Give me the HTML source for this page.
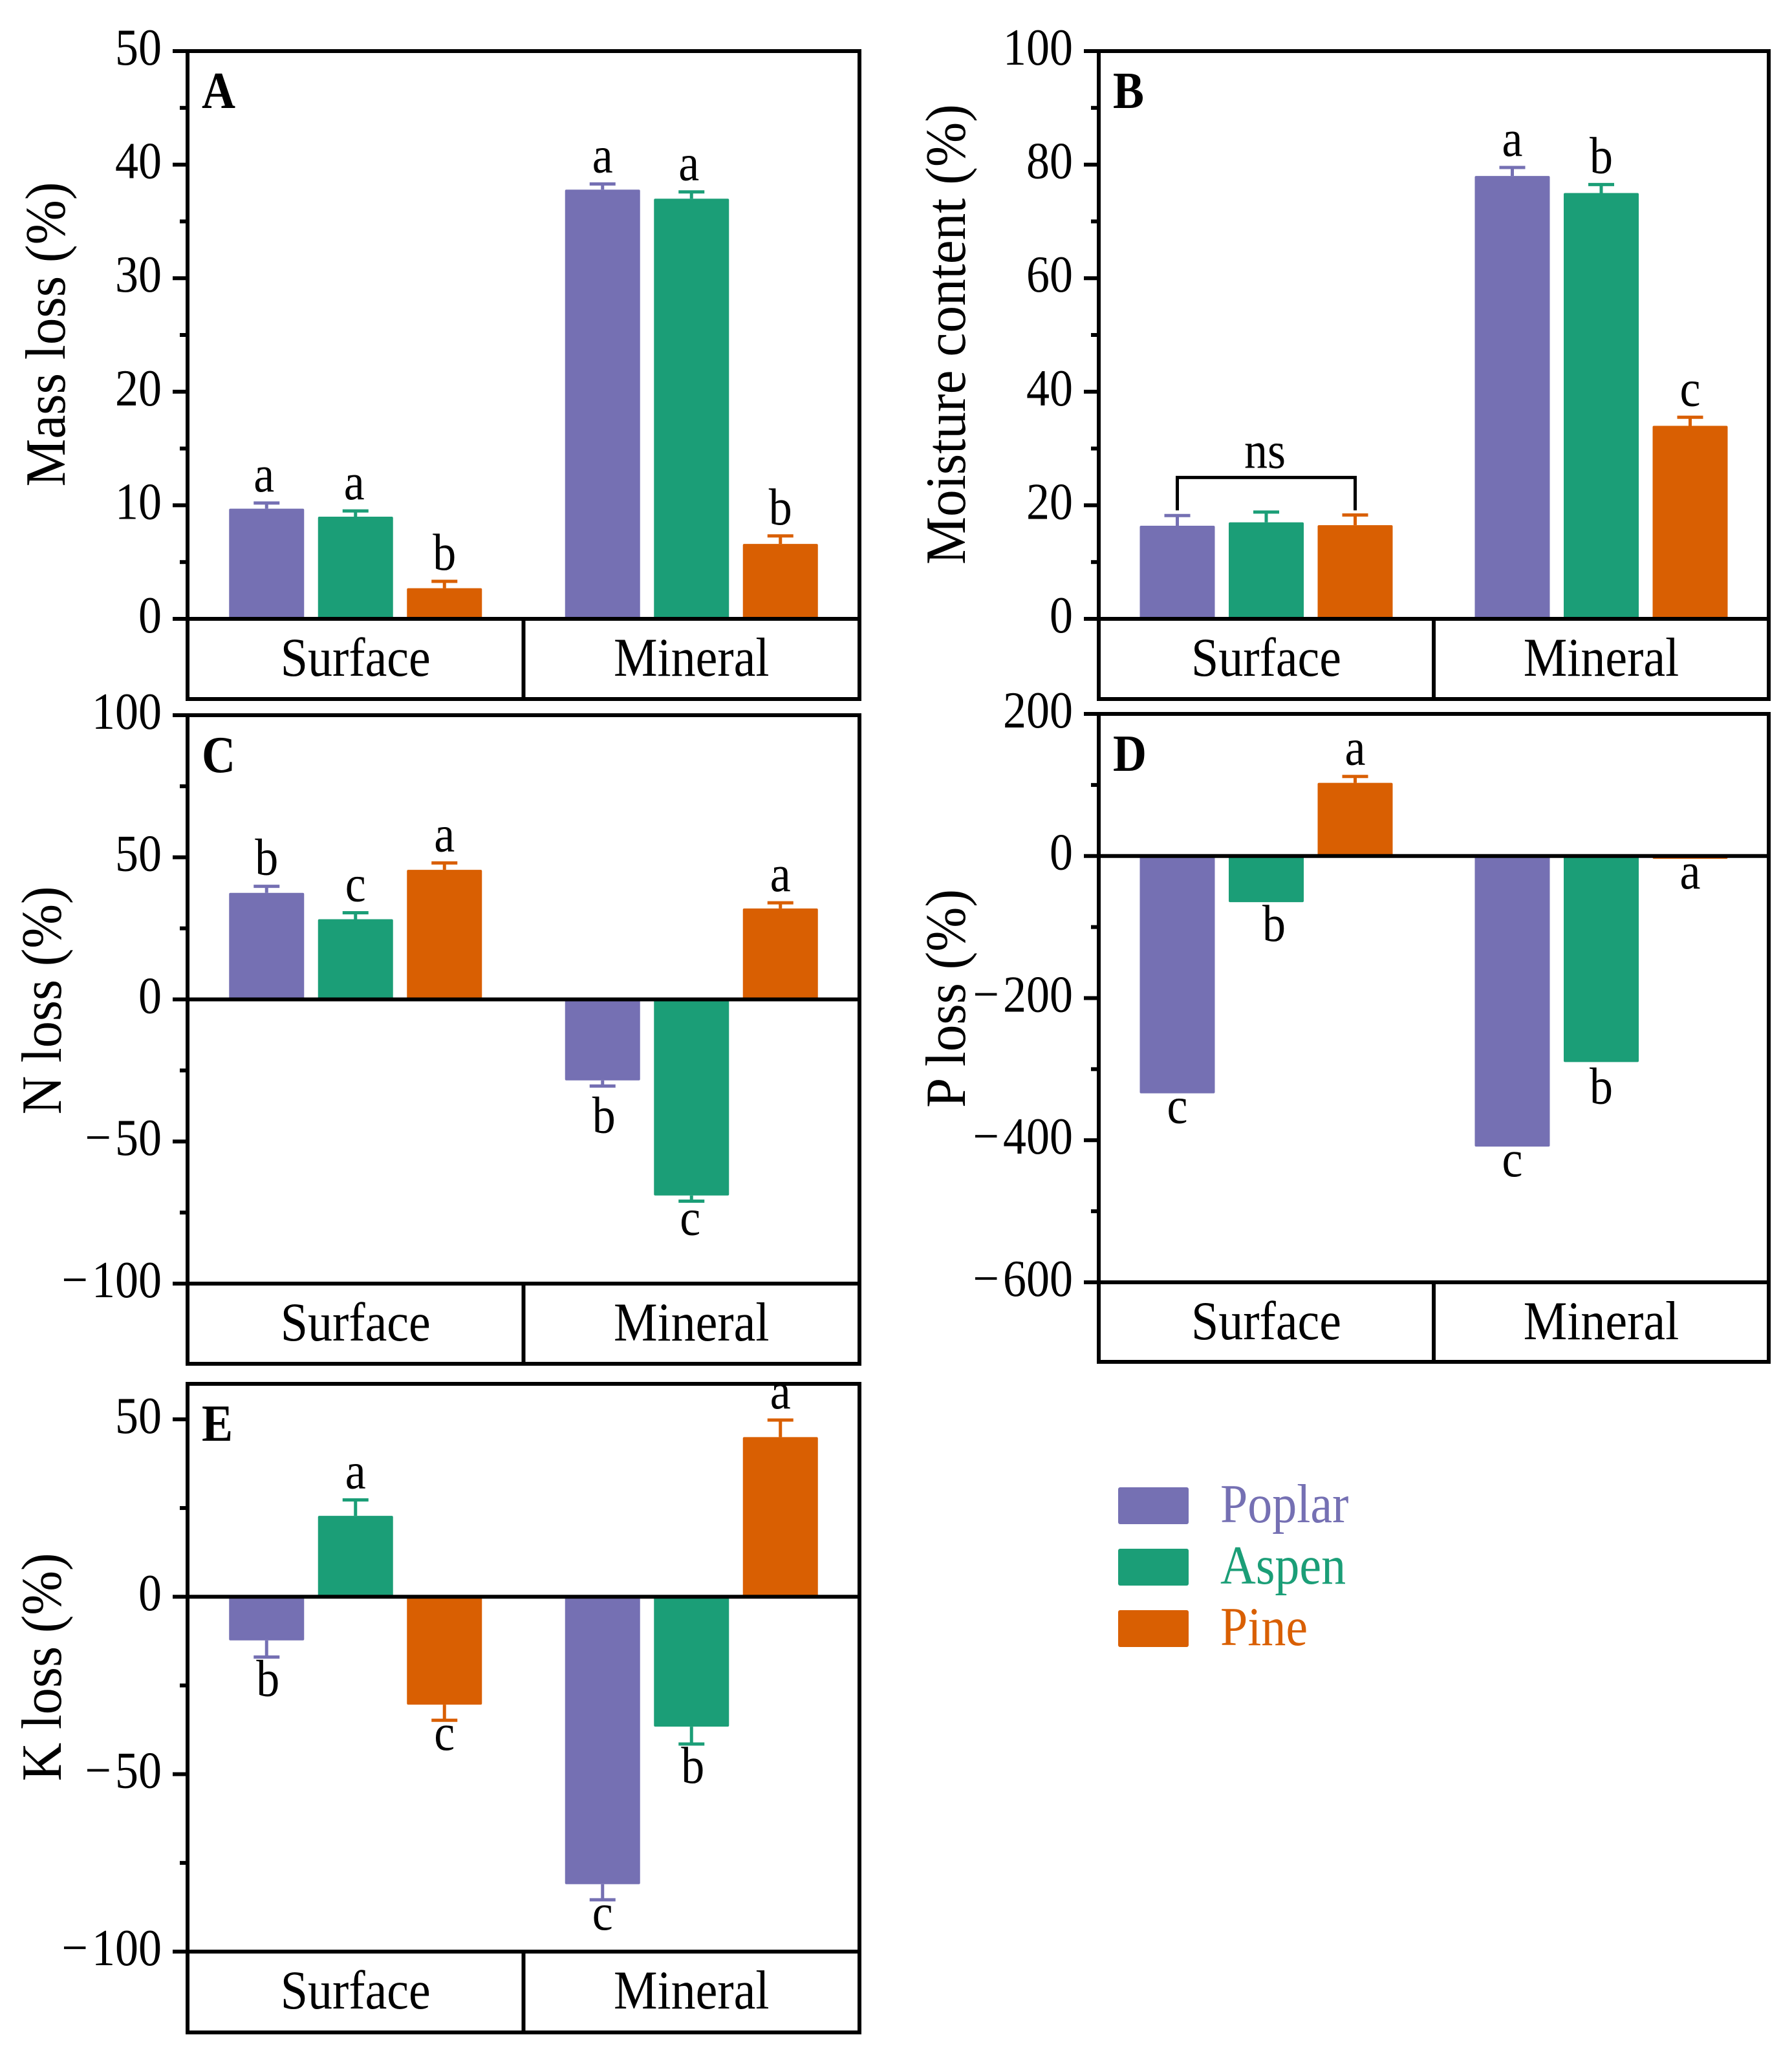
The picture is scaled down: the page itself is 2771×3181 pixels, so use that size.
<!DOCTYPE html>
<html lang="en">
<head>
<meta charset="utf-8">
<title>Mass loss, moisture content and nutrient loss by wood species</title>
<style>
html,body{margin:0;padding:0;background:#fff}
svg{display:block}
text{font-family:"Liberation Serif",serif;fill:#000}
</style>
</head>
<body>
<svg id="chart" xmlns="http://www.w3.org/2000/svg" width="2771" height="3181" viewBox="0 0 2771 3181"></svg>
<script>
const groupNames = ['Surface', 'Mineral'];
const speciesNames = ['Poplar', 'Aspen', 'Pine'];
const speciesColors = ['#7570b3', '#1b9e77', '#d95f02'];

const massLossValues = [[9.7, 9.0, 2.7], [37.8, 37.0, 6.6]];
const massLossTips = [[10.2, 9.5, 3.3], [38.3, 37.6, 7.3]];
const massLossLetters = [['a', 'a', 'b'], ['a', 'a', 'b']];
const massLossTicks = [0, 10, 20, 30, 40, 50];

const moistureValues = [[16.4, 17.0, 16.5], [78.0, 75.0, 34.0]];
const moistureTips = [[18.2, 18.8, 18.3], [79.5, 76.5, 35.5]];
const moistureLetters = [[null, null, null], ['a', 'b', 'c']];
const moistureTicks = [0, 20, 40, 60, 80, 100];

const nLossValues = [[37.5, 28.2, 45.6], [-28.5, -69, 32]];
const nLossTips = [[39.8, 30.5, 48], [-30.5, -71, 34]];
const nLossLetters = [['b', 'c', 'a'], ['b', 'c', 'a']];
const nLossTicks = [-100, -50, 0, 50, 100];

const pLossValues = [[-334, -65, 103], [-409, -290, -4]];
const pLossTips = [[null, null, 112], [null, null, null]];
const pLossLetters = [['c', 'b', 'a'], ['c', 'b', 'a']];
const pLossTicks = [-600, -400, -200, 0, 200];

const kLossValues = [[-12.3, 22.8, -30.4], [-81, -36.6, 45]];
const kLossTips = [[-17, 27.3, -34.8], [-85.4, -41.5, 49.8]];
const kLossLetters = [['b', 'a', 'c'], ['c', 'b', 'a']];
const kLossTicks = [-100, -50, 0, 50];

const panels = [
  {id:'A', title:'Mass loss (%)', len:471, tx:100, cy:517, left:290, right:1329, top:79, bottom:957, box:1081, min:0, max:50, ticks:massLossTicks, values:massLossValues, tips:massLossTips, letters:massLossLetters},
  {id:'B', title:'Moisture content (%)', len:712, tx:1492, cy:517, left:1699, right:2735, top:79, bottom:957, box:1081, min:0, max:100, ticks:moistureTicks, values:moistureValues, tips:moistureTips, letters:moistureLetters},
  {id:'C', title:'N loss (%)', len:353, tx:94, cy:1547, left:290, right:1329, top:1106, bottom:1985, box:2109, min:-100, max:100, ticks:nLossTicks, values:nLossValues, tips:nLossTips, letters:nLossLetters},
  {id:'D', title:'P loss (%)', len:338, tx:1492, cy:1544, left:1699, right:2735, top:1104, bottom:1983, box:2106, min:-600, max:200, ticks:pLossTicks, values:pLossValues, tips:pLossTips, letters:pLossLetters},
  {id:'E', title:'K loss (%)', len:353, tx:94, cy:2578, left:290, right:1329, top:2140, bottom:3018, box:3143, min:-100, max:60, ticks:kLossTicks, values:kLossValues, tips:kLossTips, letters:kLossLetters}
];

const letterNudges = {'A-0-0':[-4,0], 'A-0-1':[-2,0], 'A-1-1':[-4,0], 'C-1-0':[2,8], 'C-1-1':[-2,6], 'D-0-1':[12,-4], 'E-1-1':[2,-4], 'E-0-0':[2,-4]};

const NS = 'http://www.w3.org/2000/svg';
const root = document.getElementById('chart');
const STRETCH = 1.12;

function make(tag, parent, attrs, content) {
  const el = document.createElementNS(NS, tag);
  for (const k in attrs) el.setAttribute(k, attrs[k]);
  if (content !== undefined) el.textContent = content;
  parent.appendChild(el);
  return el;
}
function stretched(parent, attrs, content) {
  attrs.transform = 'matrix(1 0 0 ' + STRETCH + ' 0 ' + (attrs.y * (1 - STRETCH)) + ')';
  return make('text', parent, attrs, content);
}
function formatTick(v) { return v < 0 ? '\u2212\u200a' + Math.abs(v) : String(v); }

panels.forEach(function (p) {
  const key = p.id.toLowerCase();
  const g = make('g', root, {});
  
  

  const w = p.right - p.left;
  const yScale = function (v) { return p.bottom - (v - p.min) * (p.bottom - p.top) / (p.max - p.min); };
  const xCenter = function (gi, si) { return p.left + w * (gi === 0 ? 0.25 : 0.75) + (si - 1) * 137.5; };
  const zeroY = yScale(0);
  const barW = 116;

  p.values.forEach(function (row, gi) {
    row.forEach(function (v, si) {
      const cx = xCenter(gi, si);
      const y = yScale(v);
      const color = speciesColors[si];
      const barName = groupNames[gi].toLowerCase() + '-' + speciesNames[si].toLowerCase();
      const tip = p.tips[gi][si];
      if (tip !== null) {
        const err = make('path', g, {d:'M' + cx + ' ' + y + 'V' + yScale(tip) + 'M' + (cx - 20) + ' ' + yScale(tip) + 'H' + (cx + 20), stroke:color, 'stroke-width':5, fill:'none'});
        
        
      }
      const bar = make('rect', g, {x:cx - barW / 2, y:Math.min(y, zeroY), width:barW, height:Math.abs(zeroY - y), rx:2, fill:color});
      
      
      const letter = p.letters[gi][si];
      if (letter) {
        const end = tip !== null ? tip : v;
        const nudge = letterNudges[p.id + '-' + gi + '-' + si] || [0, 0];
        const base = (v >= 0 ? yScale(end) - 18 : yScale(end) + (letter === 'b' ? 64 : 46)) + nudge[1];
        const label = stretched(g, {x:cx + nudge[0], y:base, 'font-size':72, 'text-anchor':'middle'}, letter);
        
        
      }
    });
  });

  const box = make('rect', g, {x:p.left, y:p.top, width:w, height:p.box - p.top, fill:'none', stroke:'#000', 'stroke-width':6});
  
  
  const axisLine = make('line', g, {x1:p.left, x2:p.right, y1:p.bottom, y2:p.bottom, stroke:'#000', 'stroke-width':6});
  
  
  if (p.min < 0) {
    const zero = make('line', g, {x1:p.left, x2:p.right, y1:zeroY, y2:zeroY, stroke:'#000', 'stroke-width':6});
    
    
  }
  const divider = make('line', g, {x1:p.left + w / 2, x2:p.left + w / 2, y1:p.bottom, y2:p.box, stroke:'#000', 'stroke-width':6});
  
  

  groupNames.forEach(function (name, gi) {
    const t = stretched(g, {x:p.left + w * (gi === 0 ? 0.25 : 0.75), y:p.bottom + 88, 'font-size':76, 'text-anchor':'middle'}, name);
    
    
  });

  const tickStep = p.ticks[1] - p.ticks[0];
  p.ticks.forEach(function (v, i) {
    const y = yScale(v);
    const tick = make('line', g, {x1:p.left - 23, x2:p.left, y1:y, y2:y, stroke:'#000', 'stroke-width':6});
    
    
    const lab = stretched(g, {x:p.left - 40, y:y + 21, 'font-size':72, 'text-anchor':'end'}, formatTick(v));
    
    
    if (i < p.ticks.length - 1 || v + tickStep / 2 <= p.max) {
      const my = yScale(v + tickStep / 2);
      const minor = make('line', g, {x1:p.left - 12, x2:p.left, y1:my, y2:my, stroke:'#000', 'stroke-width':6});
      
      
    }
  });

  const title = make('text', g, {x:p.tx, y:p.cy, 'font-size':88, 'text-anchor':'middle', textLength:p.len, lengthAdjust:'spacingAndGlyphs', transform:'rotate(-90 ' + p.tx + ' ' + p.cy + ')'}, p.title);
  
  

  const tag = stretched(g, {x:p.left + 22, y:p.top + 88, 'font-size':72, 'font-weight':'bold'}, p.id);
  
  

  if (p.id === 'B') {
    const x1 = xCenter(0, 0);
    const x2 = xCenter(0, 2);
    const yb = yScale(19.1);
    const yt = yScale(24.9);
    const bracket = make('path', g, {d:'M' + x1 + ' ' + yb + 'V' + yt + 'H' + x2 + 'V' + yb, fill:'none', stroke:'#000', 'stroke-width':5});
    
    
    const ns = stretched(g, {x:(x1 + x2) / 2 - 2, y:yt - 15, 'font-size':72, 'text-anchor':'middle'}, 'ns');
    
    
  }
});

const legend = make('g', root, {});


speciesNames.forEach(function (name, i) {
  const top = 2300 + i * 95;
  const entry = make('g', legend, {});
  
  
  const swatch = make('rect', entry, {x:1729, y:top, width:109, height:57, rx:3, fill:speciesColors[i]});
  
  
  const text = stretched(entry, {x:1887, y:top + 54, 'font-size':76, style:'fill:' + speciesColors[i]}, name);
  
  
});
</script>
</body>
</html>
